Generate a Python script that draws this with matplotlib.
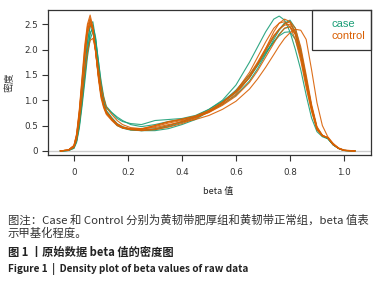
import matplotlib
matplotlib.use("Agg")
import matplotlib.pyplot as plt
from matplotlib.patches import Rectangle

plt.rcParams['font.family'] = ['DejaVu Sans']

# Shared beta-value grid for the density curves
beta_x = [-0.05, -0.02, 0.00, 0.01, 0.02, 0.03, 0.04, 0.05, 0.06, 0.07, 0.08, 0.09,
          0.10, 0.11, 0.12, 0.14, 0.16, 0.18, 0.21, 0.25, 0.30, 0.35, 0.40, 0.45,
          0.50, 0.55, 0.60, 0.65, 0.68, 0.71, 0.74, 0.76, 0.78, 0.80, 0.82, 0.84,
          0.86, 0.88, 0.90, 0.92, 0.94, 0.96, 0.98, 1.00, 1.04]

case_1 = [0, 0.01, 0.06, 0.2, 0.5, 0.95, 1.45, 1.95, 2.3, 2.45, 2.25, 1.8, 1.35, 1.02, 0.85,
          0.75, 0.64, 0.58, 0.54, 0.52, 0.6, 0.62, 0.64, 0.7, 0.82, 1.0, 1.3, 1.75, 2.05,
          2.35, 2.6, 2.66, 2.58, 2.35, 2.0, 1.6, 1.1, 0.65, 0.38, 0.28, 0.24, 0.12, 0.05, 0.01, 0]
case_2 = [0, 0.01, 0.05, 0.17, 0.45, 0.88, 1.35, 1.85, 2.2, 2.35, 2.2, 1.8, 1.4, 1.08, 0.88,
          0.76, 0.67, 0.6, 0.52, 0.48, 0.52, 0.58, 0.62, 0.68, 0.78, 0.95, 1.15, 1.45, 1.7,
          1.98, 2.25, 2.4, 2.52, 2.55, 2.35, 1.95, 1.4, 0.85, 0.45, 0.3, 0.25, 0.13, 0.05, 0.01, 0]
case_3 = [0, 0.01, 0.08, 0.24, 0.6, 1.1, 1.65, 2.15, 2.45, 2.48, 2.12, 1.65, 1.2, 0.92, 0.75,
          0.62, 0.5, 0.45, 0.41, 0.4, 0.42, 0.48, 0.56, 0.66, 0.78, 0.92, 1.1, 1.38, 1.62,
          1.9, 2.2, 2.38, 2.52, 2.58, 2.42, 2.0, 1.45, 0.88, 0.45, 0.3, 0.25, 0.12, 0.05, 0.01, 0]
case_4 = [0, 0.01, 0.06, 0.2, 0.52, 0.98, 1.5, 2.0, 2.33, 2.42, 2.15, 1.7, 1.25, 0.97, 0.8,
          0.66, 0.54, 0.48, 0.43, 0.41, 0.44, 0.5, 0.58, 0.68, 0.82, 0.98, 1.18, 1.45, 1.68,
          1.92, 2.15, 2.3, 2.42, 2.45, 2.3, 1.92, 1.4, 0.86, 0.44, 0.3, 0.25, 0.12, 0.05, 0.01, 0]
case_5 = [0, 0.01, 0.07, 0.22, 0.58, 1.05, 1.62, 2.15, 2.47, 2.55, 2.22, 1.72, 1.25, 0.95, 0.78,
          0.64, 0.52, 0.46, 0.42, 0.4, 0.4, 0.44, 0.52, 0.62, 0.78, 0.96, 1.2, 1.5, 1.72,
          1.95, 2.15, 2.27, 2.34, 2.35, 2.2, 1.85, 1.35, 0.85, 0.44, 0.3, 0.25, 0.12, 0.05, 0.01, 0]

control_1 = [0, 0.02, 0.11, 0.34, 0.82, 1.45, 2.08, 2.5, 2.68, 2.45, 1.98, 1.45, 1.05, 0.85, 0.72,
             0.6, 0.5, 0.45, 0.42, 0.42, 0.48, 0.55, 0.6, 0.66, 0.76, 0.92, 1.12, 1.45, 1.72,
             2.02, 2.35, 2.52, 2.6, 2.55, 2.3, 1.85, 1.3, 0.8, 0.42, 0.3, 0.26, 0.13, 0.05, 0.01, 0]
control_2 = [0, 0.02, 0.1, 0.32, 0.78, 1.4, 2.0, 2.45, 2.62, 2.42, 1.98, 1.5, 1.1, 0.88, 0.74,
             0.62, 0.52, 0.46, 0.43, 0.43, 0.5, 0.57, 0.62, 0.68, 0.78, 0.95, 1.18, 1.55, 1.85,
             2.15, 2.42, 2.52, 2.55, 2.45, 2.2, 1.78, 1.25, 0.78, 0.42, 0.3, 0.26, 0.13, 0.05, 0.01, 0]
control_3 = [0, 0.02, 0.1, 0.3, 0.75, 1.35, 1.92, 2.38, 2.58, 2.4, 1.98, 1.52, 1.12, 0.9, 0.76,
             0.63, 0.53, 0.47, 0.44, 0.44, 0.46, 0.52, 0.57, 0.62, 0.7, 0.82, 0.98, 1.22, 1.42,
             1.65, 1.9, 2.07, 2.22, 2.33, 2.4, 2.38, 2.2, 1.6, 0.95, 0.5, 0.28, 0.15, 0.06, 0.02, 0]
control_4 = [0, 0.01, 0.07, 0.22, 0.58, 1.05, 1.55, 1.95, 2.18, 2.22, 2.0, 1.65, 1.3, 1.05, 0.86,
             0.72, 0.6, 0.52, 0.46, 0.44, 0.5, 0.58, 0.63, 0.69, 0.8, 0.96, 1.18, 1.5, 1.75,
             2.02, 2.28, 2.4, 2.48, 2.5, 2.35, 1.95, 1.42, 0.88, 0.46, 0.31, 0.26, 0.13, 0.05, 0.01, 0]
control_5 = [0, 0.02, 0.1, 0.3, 0.74, 1.32, 1.88, 2.35, 2.55, 2.38, 1.95, 1.5, 1.12, 0.9, 0.76,
             0.63, 0.52, 0.46, 0.42, 0.4, 0.42, 0.47, 0.54, 0.64, 0.78, 0.95, 1.16, 1.45, 1.7,
             1.98, 2.25, 2.4, 2.5, 2.55, 2.42, 2.05, 1.5, 0.92, 0.48, 0.31, 0.26, 0.13, 0.05, 0.01, 0]
control_6 = [0, 0.02, 0.09, 0.28, 0.7, 1.28, 1.82, 2.3, 2.5, 2.38, 1.98, 1.52, 1.14, 0.91, 0.77,
             0.64, 0.53, 0.47, 0.43, 0.41, 0.43, 0.5, 0.58, 0.66, 0.76, 0.9, 1.08, 1.35, 1.58,
             1.85, 2.12, 2.3, 2.42, 2.45, 2.3, 1.9, 1.38, 0.85, 0.44, 0.3, 0.26, 0.13, 0.05, 0.01, 0]

case_curves = [case_1, case_2, case_3, case_4, case_5]
control_curves = [control_1, control_2, control_3, control_4, control_5, control_6]

x_ticks = [0, 0.2, 0.4, 0.6, 0.8, 1.0]
x_tick_labels = ["0", "0.2", "0.4", "0.6", "0.8", "1.0"]
y_ticks = [0, 0.5, 1.0, 1.5, 2.0, 2.5]
y_tick_labels = ["0", "0.5", "1.0", "1.5", "2.0", "2.5"]
legend_labels = ["case", "control"]

GREEN = "#1B9E77"
ORANGE = "#D95F02"

fig = plt.figure(figsize=(3.89, 2.95), dpi=100)
ax = fig.add_axes([0.1234, 0.4746, 0.8303, 0.4915])

ax.axhline(0, color="#cccccc", lw=1.0, zorder=0)
for yv in case_curves:
    ax.plot(beta_x, yv, color=GREEN, lw=0.8, alpha=0.9)
for yv in control_curves:
    ax.plot(beta_x, yv, color=ORANGE, lw=0.8, alpha=0.9)

ax.set_xlim(-0.096, 1.1)
ax.set_ylim(-0.08, 2.78)
ax.set_xticks(x_ticks)
ax.set_xticklabels(x_tick_labels)
ax.set_yticks(y_ticks)
ax.set_yticklabels(y_tick_labels)
ax.tick_params(axis="both", labelsize=6.3, length=4, width=0.8, colors="#333333")
ax.tick_params(axis="x", pad=5.5)
ax.tick_params(axis="y", pad=3)
for s in ax.spines.values():
    s.set_color("#333333")
    s.set_linewidth(0.9)

cjk = ['Noto Sans CJK SC', 'DejaVu Sans']
ax.set_ylabel("密度", family=cjk, fontsize=7, color="#333333", labelpad=7)
fig.text(218 / 389, 1 - 191 / 295, "beta 值", family=cjk, fontsize=6.5,
         ha="center", va="center", color="#222222")

# legend box (drawn in pixel-based figure coordinates)
fig.patches.append(Rectangle((312 / 389, 1 - 50 / 295), 59 / 389, 40 / 295,
                             transform=fig.transFigure, fill=False,
                             edgecolor="#333333", lw=0.9))
for lab, col, ypx in zip(legend_labels, [GREEN, ORANGE], [24, 36]):
    fig.text(332 / 389, 1 - ypx / 295, lab, family=['Liberation Sans'], fontsize=8,
             color=col, ha="left", va="center")

# captions
fig.text(8 / 389, 1 - 220 / 295,
         "图注：Case 和 Control 分别为黄韧带肥厚组和黄韧带正常组，beta 值表",
         family=cjk, fontsize=8.2, va="center", ha="left", color="#333333")
fig.text(8 / 389, 1 - 233 / 295, "示甲基化程度。",
         family=cjk, fontsize=8.2, va="center", ha="left", color="#333333")
fig.text(8 / 389, 1 - 252 / 295, "图 1 丨原始数据 beta 值的密度图",
         family=cjk, fontsize=8.1, va="center", ha="left", color="#222222", weight="bold")
fig.text(8 / 389, 1 - 269 / 295, "Figure 1  |  Density plot of beta values of raw data",
         family=cjk, fontsize=7.2, va="center", ha="left", color="#222222", weight="bold")

fig.savefig("out.png", dpi=100)
